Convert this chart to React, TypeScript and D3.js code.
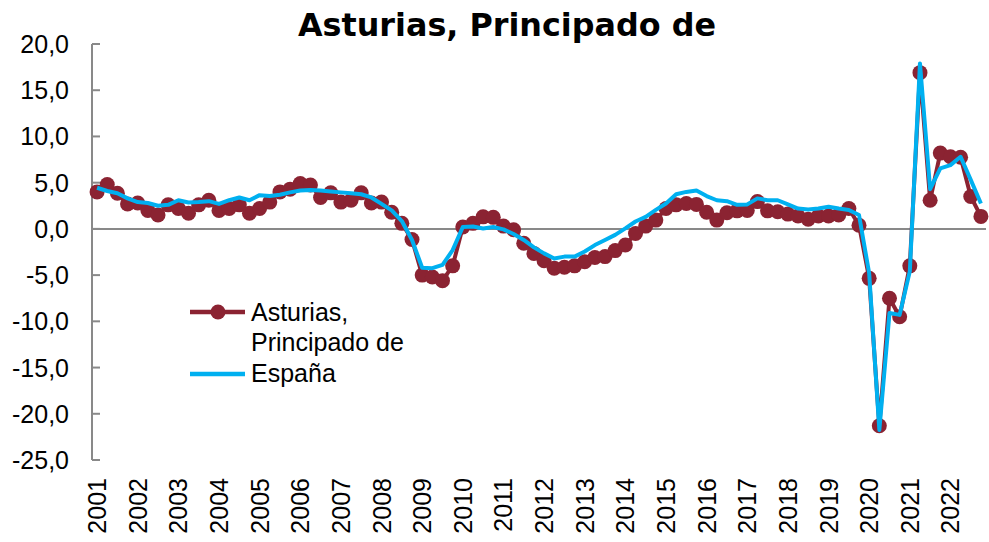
import React, { useEffect, useRef } from "react";
import * as d3 from "d3";

const years = ["2001","2002","2003","2004","2005","2006","2007","2008","2009","2010","2011","2012","2013","2014","2015","2016","2017","2018","2019","2020","2021","2022"];
const quarters = ["T1","T2","T3","T4"];

const asturias = [
  4.0, 4.8, 3.85, 2.7,
  2.8, 2.0, 1.5, 2.6,
  2.2, 1.7, 2.6, 3.1,
  2.0, 2.2, 2.6, 1.7,
  2.2, 2.9, 4.0, 4.3,
  4.9, 4.75, 3.4, 3.9,
  2.9, 3.1, 3.9, 2.8,
  2.9, 1.8, 0.6, -1.15,
  -5.0, -5.2, -5.6, -4.0,
  0.2, 0.6, 1.3, 1.25,
  0.3, -0.1, -1.55, -2.65,
  -3.45, -4.25, -4.15, -4.0,
  -3.55, -3.1, -3.0, -2.35,
  -1.75, -0.5, 0.3, 0.95,
  2.2, 2.6, 2.75, 2.65,
  1.8, 0.95, 1.75, 1.95,
  2.0, 2.95, 1.95, 1.85,
  1.6, 1.4, 1.05, 1.4,
  1.4, 1.5, 2.2, 0.4,
  -5.35, -21.3, -7.5, -9.5,
  -4.0, 16.9, 3.1, 8.2,
  7.8, 7.75, 3.5, 1.35,
];

const espana = [
  4.45, 4.1, 3.85, 3.3,
  2.9, 2.8, 2.5, 2.6,
  3.1, 2.85, 2.9, 3.0,
  2.7, 3.1, 3.4, 3.1,
  3.65, 3.55, 3.7, 3.95,
  4.15, 4.2, 4.15, 4.05,
  3.95, 3.85, 3.75, 3.4,
  2.7, 2.0, 0.85, -1.2,
  -4.2, -4.25, -3.9, -2.3,
  0.2, 0.25, 0.05, 0.2,
  -0.05, -0.55, -1.2, -2.0,
  -2.65, -3.2, -3.0, -3.0,
  -2.45, -1.75, -1.2, -0.65,
  0.05, 0.8, 1.3, 2.05,
  2.75, 3.75, 4.0, 4.15,
  3.55, 3.1, 3.0, 2.6,
  2.65, 3.3, 3.1, 3.1,
  2.65, 2.2, 2.1, 2.2,
  2.4, 2.2, 2.05, 1.5,
  -4.8, -21.75, -9.1, -9.3,
  -4.6, 17.9, 4.3, 6.55,
  6.9, 7.8, 5.3, 2.75,
];

const yTicks = [20, 15, 10, 5, 0, -5, -10, -15, -20, -25];
const seriesNames = ["Asturias, Principado de", "España"];
const title = "Asturias, Principado de";

const RED = "#8B2332";
const BLUE = "#00B0F0";
const AXIS = "#898989";
const FONT = "'Liberation Sans', Arial, sans-serif";

export default function App() {
  const ref = useRef<SVGSVGElement>(null);

  useEffect(() => {
    const svg = d3.select(ref.current);
    svg.selectAll("*").remove();

    const cats: string[] = [];
    years.forEach((y) => quarters.forEach((q) => cats.push(y + q)));

    const x = d3.scaleBand<string>().domain(cats).range([92, 986]);
    const cx = (i: number) => (x(cats[i]) as number) + x.bandwidth() / 2;
    const y = d3.scaleLinear().domain([-25, 20]).range([460, 44]);

    // title
    svg.append("text")
      .attr("x", 507).attr("y", 36)
      .attr("text-anchor", "middle")
      .attr("font-family", "'DejaVu Sans', Verdana, sans-serif")
      .attr("font-weight", "bold")
      .attr("font-size", 31.8)
      .attr("fill", "#000")
      .text(title);

    // y axis
    const yAxis = svg.append("g");
    yAxis.append("line")
      .attr("x1", 92).attr("x2", 92)
      .attr("y1", y(20)).attr("y2", y(-25))
      .attr("stroke", AXIS).attr("stroke-width", 2);
    yTicks.forEach((t) => {
      yAxis.append("line")
        .attr("x1", 92).attr("x2", 100)
        .attr("y1", y(t)).attr("y2", y(t))
        .attr("stroke", AXIS).attr("stroke-width", 2);
      yAxis.append("text")
        .attr("x", 69).attr("y", y(t))
        .attr("dy", "0.36em")
        .attr("text-anchor", "end")
        .attr("font-family", FONT)
        .attr("font-size", 25)
        .attr("fill", "#000")
        .text(d3.format(".1f")(t).replace(".", ",").replace("−", "-"));
    });

    // zero line (category axis)
    svg.append("line")
      .attr("x1", 92).attr("x2", 986)
      .attr("y1", y(0)).attr("y2", y(0))
      .attr("stroke", AXIS).attr("stroke-width", 2);

    // year labels
    years.forEach((yr, k) => {
      const px = cx(k * 4);
      svg.append("text")
        .attr("transform", `translate(${px},478) rotate(-90)`)
        .attr("dy", "0.36em")
        .attr("text-anchor", "end")
        .attr("font-family", FONT)
        .attr("font-size", 25)
        .attr("fill", "#000")
        .text(yr);
    });

    const line = d3.line<number>()
      .x((_, i) => cx(i))
      .y((d) => y(d));

    // Asturias
    svg.append("path")
      .attr("d", line(asturias) as string)
      .attr("fill", "none")
      .attr("stroke", RED)
      .attr("stroke-width", 4)
      .attr("stroke-linejoin", "round");
    svg.append("g").selectAll("circle")
      .data(asturias)
      .join("circle")
      .attr("cx", (_, i) => cx(i))
      .attr("cy", (d) => y(d))
      .attr("r", 7.5)
      .attr("fill", RED);

    // España
    svg.append("path")
      .attr("d", line(espana) as string)
      .attr("fill", "none")
      .attr("stroke", BLUE)
      .attr("stroke-width", 4)
      .attr("stroke-linejoin", "round");

    // legend
    const lg = svg.append("g");
    lg.append("line")
      .attr("x1", 190).attr("x2", 245).attr("y1", 312).attr("y2", 312)
      .attr("stroke", RED).attr("stroke-width", 4.5);
    lg.append("circle").attr("cx", 218).attr("cy", 312).attr("r", 7.5).attr("fill", RED);
    const t1 = lg.append("text")
      .attr("font-family", FONT).attr("font-size", 25).attr("fill", "#000");
    const parts = seriesNames[0].split(" ");
    t1.append("tspan").attr("x", 251).attr("y", 321).text(parts[0]);
    t1.append("tspan").attr("x", 251).attr("y", 351).text(parts.slice(1).join(" "));
    lg.append("line")
      .attr("x1", 190).attr("x2", 245).attr("y1", 374).attr("y2", 374)
      .attr("stroke", BLUE).attr("stroke-width", 4.5);
    lg.append("text")
      .attr("x", 251).attr("y", 382)
      .attr("font-family", FONT).attr("font-size", 25).attr("fill", "#000")
      .text(seriesNames[1]);
  }, []);

  return (
    <svg
      ref={ref}
      width={989}
      height={542}
      style={{ position: "absolute", left: 0, top: 0, background: "#fff" }}
    />
  );
}
